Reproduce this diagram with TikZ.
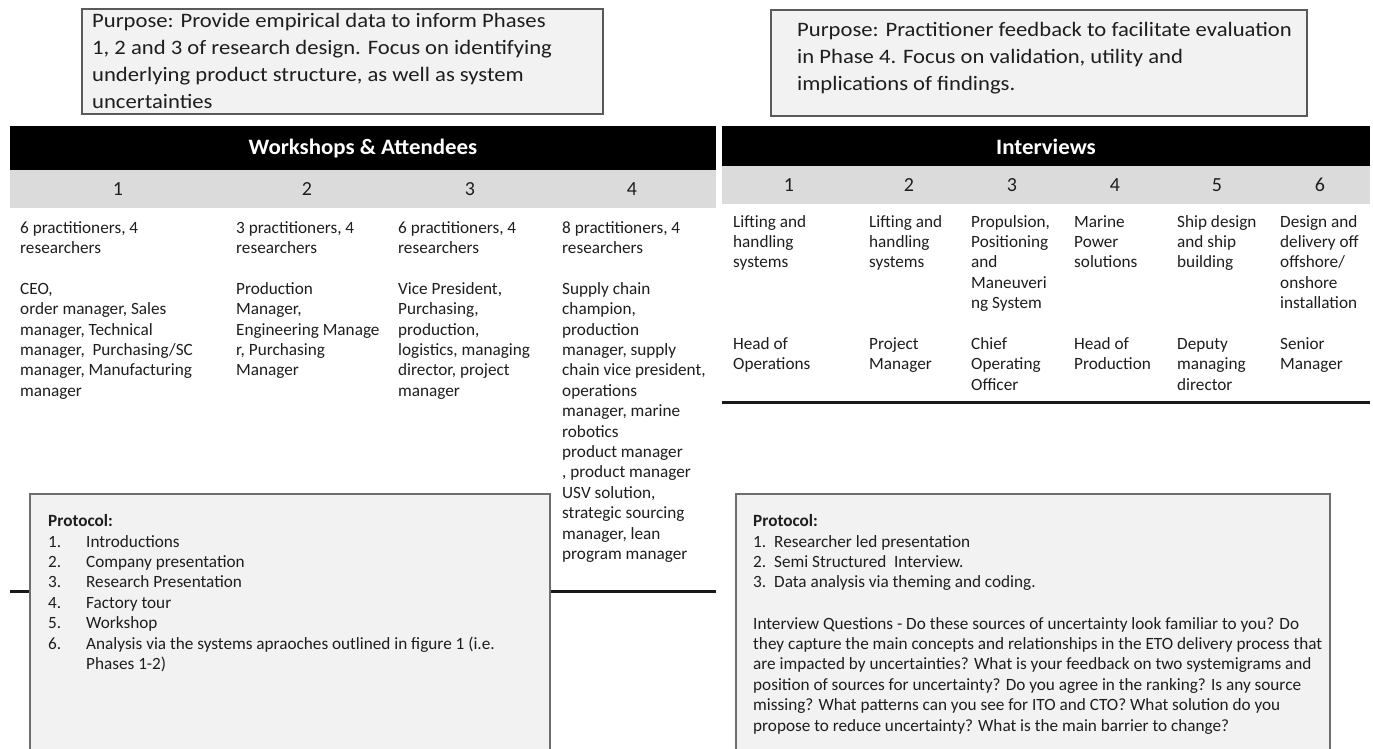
\documentclass[tikz,border=0pt]{standalone}
\usepackage{fontspec}
\setmainfont{Carlito}
\newfontfamily\purpfont[FakeStretch=1.105]{Carlito}
\newfontfamily\headfont[FakeStretch=1.04]{Carlito}
\definecolor{tc}{HTML}{1E1E1E}
\definecolor{boxfill}{HTML}{F2F2F2}
\definecolor{boxline}{HTML}{5A5A5A}
\definecolor{rowfill}{HTML}{DBDBDB}
\definecolor{protline}{HTML}{6E6E6E}
\tikzset{
  body/.style={anchor=base west, inner sep=0pt, align=left, text=tc, font=\fontsize{17.2}{20.4}\selectfont},
  purptext/.style={anchor=base west, inner sep=0pt, align=left, text=tc, font=\purpfont\fontsize{20.5}{27.3}\selectfont},
  purpbox/.style={draw=boxline, fill=boxfill, line width=1.3pt},
  protbox/.style={draw=protline, fill=boxfill, line width=1.3pt},
  headbar/.style={fill=black},
  numrow/.style={fill=rowfill},
  headtext/.style={anchor=base, text=white, font=\headfont\fontsize{22}{26}\selectfont\bfseries, inner sep=0pt},
  numtext/.style={text=tc, font=\fontsize{20}{24}\selectfont, inner sep=0pt},
  rule/.style={line width=3pt, draw=black!90}
}
\begin{document}
\begin{tikzpicture}[x=1pt,y=-1pt]
\clip (0,0) rectangle (1373,748);
\fill[white] (0,0) rectangle (1373,748);

% Purpose boxes (multi-line nodes: base anchor = last line's baseline)
\draw[purpbox] (82,9) rectangle (603,114);
\node[purptext] (purpL) at (92,108.9) {Purpose: Provide empirical data to inform Phases\\1, 2 and 3 of research design. Focus on identifying\\underlying product structure, as well as system\\uncertainties};
\draw[purpbox] (771,10) rectangle (1307,116);
\node[purptext] (purpR) at (797,90.6) {Purpose: Practitioner feedback to facilitate evaluation\\in Phase 4. Focus on validation, utility and\\implications of findings.};

% Headers
\fill[headbar] (10,126) rectangle (716,170);
\node[headtext] (hL) at (363,154) {Workshops \& Attendees};
\fill[numrow] (10,170) rectangle (716,208);
\node[numtext] (wn1) at (118,189) {1};
\node[numtext] (wn2) at (307,189) {2};
\node[numtext] (wn3) at (470,189) {3};
\node[numtext] (wn4) at (632,189) {4};

\fill[headbar] (722,126) rectangle (1370,166);
\node[headtext] (hR) at (1046,154) {Interviews};
\fill[numrow] (722,166) rectangle (1370,204);
\node[numtext] (in1) at (789,185) {1};
\node[numtext] (in2) at (909,185) {2};
\node[numtext] (in3) at (1012,185) {3};
\node[numtext] (in4) at (1115,185) {4};
\node[numtext] (in5) at (1217,185) {5};
\node[numtext] (in6) at (1320,185) {6};

% Workshop columns
\node[body] (w1) at (20,396.2) {6 practitioners, 4\\researchers\\[20.4pt]CEO,\\order manager, Sales\\manager, Technical\\manager,\ \ Purchasing/SC\\manager, Manufacturing\\manager};
\node[body] (w2) at (236,375.8) {3 practitioners, 4\\researchers\\[20.4pt]Production\\Manager,\\Engineering Manage\\r, Purchasing\\Manager};
\node[body] (w3) at (398,396.2) {6 practitioners, 4\\researchers\\[20.4pt]Vice President,\\Purchasing,\\production,\\logistics, managing\\director, project\\manager};
\node[body] (w4) at (562,559.4) {8 practitioners, 4\\researchers\\[20.4pt]Supply chain\\champion,\\production\\manager, supply\\chain vice president,\\operations\\manager, marine\\robotics\\product manager\\, product manager\\USV solution,\\strategic sourcing\\manager, lean\\program manager};

% Interview columns
\node[body] (i1) at (733,369.8) {Lifting and\\handling\\systems\\[61.2pt]Head of\\Operations};
\node[body] (i2) at (869,369.8) {Lifting and\\handling\\systems\\[61.2pt]Project\\Manager};
\node[body] (i3) at (971,390.2) {Propulsion,\\Positioning\\and\\Maneuveri\\ng System\\[20.4pt]Chief\\Operating\\Officer};
\node[body] (i4) at (1074,369.8) {Marine\\Power\\solutions\\[61.2pt]Head of\\Production};
\node[body] (i5) at (1177,390.2) {Ship design\\and ship\\building\\[61.2pt]Deputy\\managing\\director};
\node[body] (i6) at (1280,369.8) {Design and\\delivery off\\offshore/\\onshore\\installation\\[20.4pt]Senior\\Manager};

% Rules
\coordinate (rL1) at (10,591);
\coordinate (rL2) at (716,591);
\draw[rule] (rL1) -- (rL2);
\coordinate (rR1) at (722,402);
\coordinate (rR2) at (1370,402);
\draw[rule] (rR1) -- (rR2);

% Protocol boxes
\draw[protbox] (30,494) rectangle (550,770);
\node[body, font=\fontsize{17.2}{20.4}\selectfont\bfseries] (pLt) at (48,526) {Protocol:};
\node[body] (pLn) at (48,649) {1.\\2.\\3.\\4.\\5.\\6.};
\node[body] (pLi) at (86,669.4) {Introductions\\Company presentation\\Research Presentation\\Factory tour\\Workshop\\Analysis via the systems apraoches outlined in figure 1 (i.e.\\Phases 1-2)};

\draw[protbox] (736,494) rectangle (1330,770);
\node[body, font=\fontsize{17.2}{20.4}\selectfont\bfseries] (pRt) at (753,526) {Protocol:};
\node[body] (pRn) at (753,587.8) {1.\\2.\\3.};
\node[body] (pRi) at (774,587.8) {Researcher led presentation\\Semi Structured\ \ Interview.\\Data analysis via theming and coding.};
\node[body] (pRq) at (753,731) {Interview Questions - Do these sources of uncertainty look familiar to you? Do\\they capture the main concepts and relationships in the ETO delivery process that\\are impacted by uncertainties? What is your feedback on two systemigrams and\\position of sources for uncertainty? Do you agree in the ranking? Is any source\\missing? What patterns can you see for ITO and CTO? What solution do you\\propose to reduce uncertainty? What is the main barrier to change?};
\end{tikzpicture}
\end{document}
